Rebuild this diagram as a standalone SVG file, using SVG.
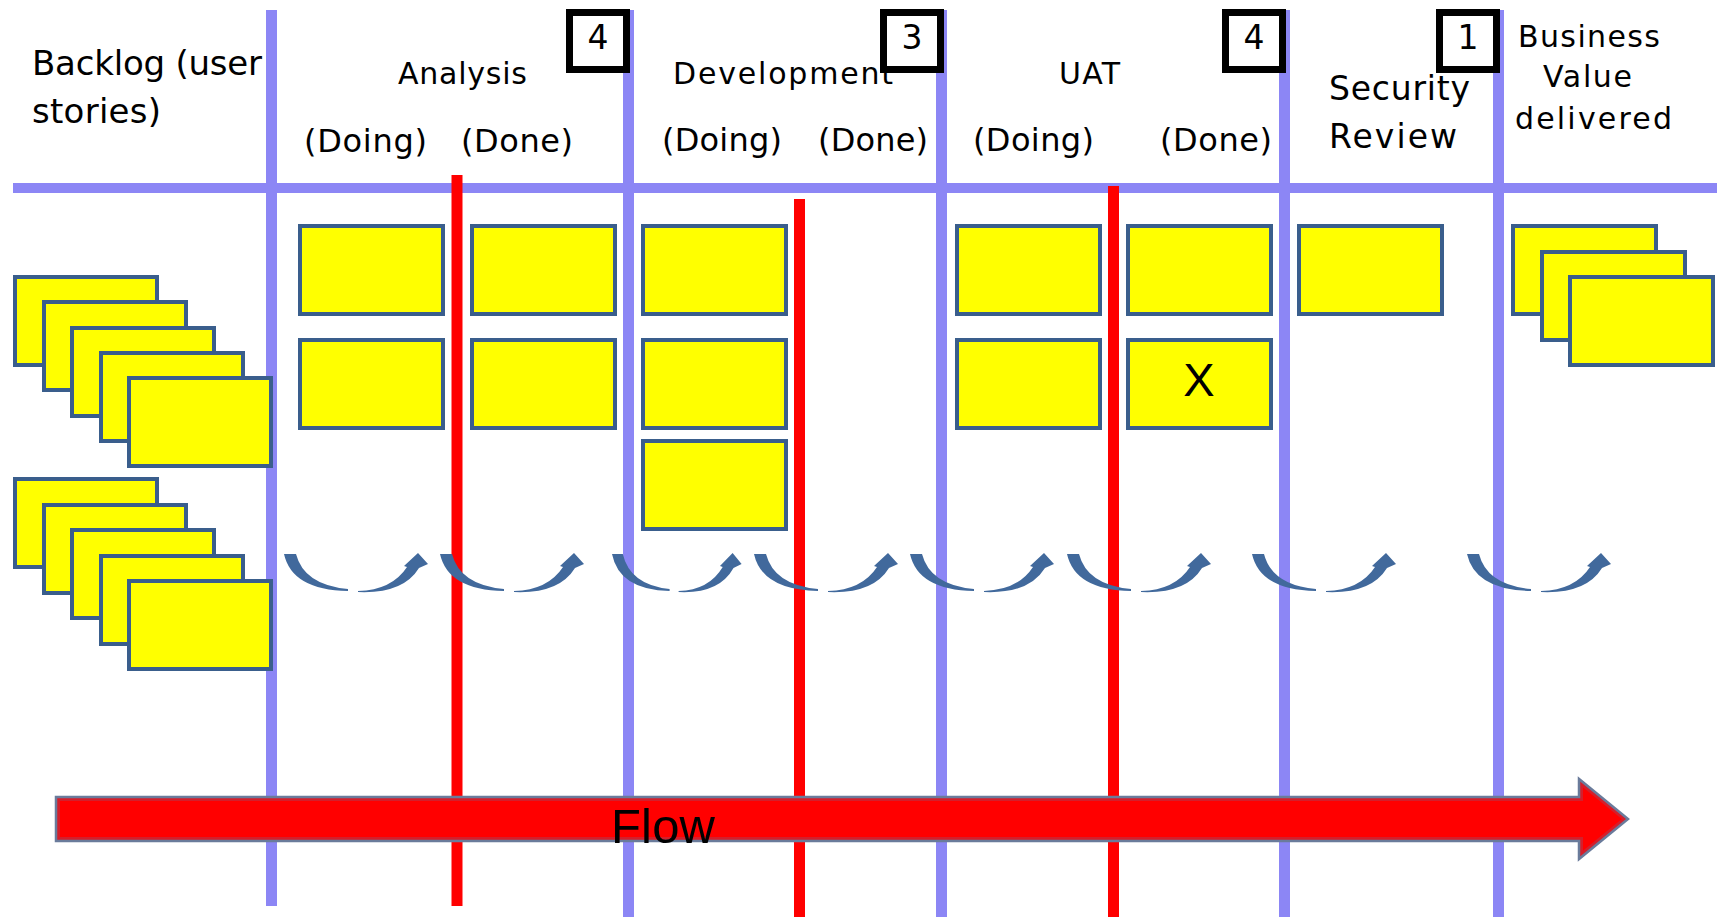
<svg xmlns="http://www.w3.org/2000/svg" xmlns:xlink="http://www.w3.org/1999/xlink" width="1717" height="917" viewBox="0 0 1717 917">
<style>
.lane{stroke:#8C86F5;stroke-width:11;fill:none}
.hline{stroke:#8C86F5;stroke-width:10;fill:none}
.wip{stroke:#FF0000;stroke-width:11;fill:none}
.card{fill:#FFFF00;stroke:#3A5E8C;stroke-width:4}
.lim{fill:#FFFFFF;stroke:#000000;stroke-width:7}
.h{font-family:"DejaVu Sans",Verdana,sans-serif;fill:#000}
.num{font-family:"DejaVu Sans",Verdana,sans-serif;font-size:33px;text-anchor:middle;fill:#000}
.ca{fill:#41699C}
</style>
<defs>
<g id="carrow">
<path class="ca" d="M0,0 L12,0 Q20,31 64,35 L64,37 Q8,36 0,0 Z"/>
<path class="ca" d="M74,37 Q108,36 123,13 L120,12 L134,-1 L144,10 L135,14 Q119,40 74,38 Z"/>
</g>
<clipPath id="fclip"><path d="M56,797 L1579,797 L1579,779 L1628,819 L1579,859 L1579,841 L56,841 Z"/></clipPath>
</defs>
<rect width="1717" height="917" fill="#FFFFFF"/>
<g id="lanes">
<line class="hline" x1="13" y1="188" x2="1717" y2="188"/>
<line class="lane" x1="271.5" y1="10" x2="271.5" y2="906"/>
<line class="lane" x1="628.5" y1="10" x2="628.5" y2="917"/>
<line class="lane" x1="941.5" y1="10" x2="941.5" y2="917"/>
<line class="lane" x1="1284.5" y1="10" x2="1284.5" y2="917"/>
<line class="lane" x1="1498.5" y1="10" x2="1498.5" y2="917"/>
<line class="wip" x1="457" y1="175" x2="457" y2="906"/>
<line class="wip" x1="799.5" y1="199" x2="799.5" y2="917"/>
<line class="wip" x1="1113.5" y1="186" x2="1113.5" y2="917"/>
</g>
<g id="header-backlog">
<text class="h" font-size="34" x="32" y="75" textLength="230">Backlog (user</text>
<text class="h" font-size="34" x="32" y="123" textLength="129">stories)</text>
</g>
<g id="header-analysis">
<text class="h" font-size="30" x="398" y="84" textLength="129">Analysis</text>
<text class="h" font-size="32" x="304" y="152" textLength="123">(Doing)</text>
<text class="h" font-size="32" x="461" y="152" textLength="112">(Done)</text>
<rect class="lim" x="569.5" y="12.5" width="57" height="57"/>
<text class="num" x="598" y="49">4</text>
</g>
<g id="header-development">
<text class="h" font-size="30" x="673" y="84" textLength="220">Development</text>
<text class="h" font-size="32" x="662" y="151" textLength="120">(Doing)</text>
<text class="h" font-size="32" x="818" y="151" textLength="110">(Done)</text>
<rect class="lim" x="883.5" y="12.5" width="57" height="57"/>
<text class="num" x="912" y="49">3</text>
</g>
<g id="header-uat">
<text class="h" font-size="30" x="1059" y="84" textLength="61">UAT</text>
<text class="h" font-size="32" x="973" y="151" textLength="121">(Doing)</text>
<text class="h" font-size="32" x="1160" y="151" textLength="112">(Done)</text>
<rect class="lim" x="1225.5" y="12.5" width="57" height="57"/>
<text class="num" x="1254" y="49">4</text>
</g>
<g id="header-security">
<text class="h" font-size="33" x="1329" y="100" textLength="141">Security</text>
<text class="h" font-size="33" x="1329" y="148" textLength="128">Review</text>
<rect class="lim" x="1439.5" y="12.5" width="57" height="57"/>
<text class="num" x="1468" y="49">1</text>
</g>
<g id="header-business">
<text class="h" font-size="30" x="1518" y="47" textLength="142">Business</text>
<text class="h" font-size="30" x="1543" y="87" textLength="89">Value</text>
<text class="h" font-size="30" x="1515" y="129" textLength="157">delivered</text>
</g>
<g id="backlog-stack-1">
<rect class="card" x="15" y="277" width="142" height="88"/>
<rect class="card" x="44" y="302" width="142" height="88"/>
<rect class="card" x="72" y="328" width="142" height="88"/>
<rect class="card" x="101" y="353" width="142" height="88"/>
<rect class="card" x="129" y="378" width="142" height="88"/>
</g>
<g id="backlog-stack-2">
<rect class="card" x="15" y="479" width="142" height="88"/>
<rect class="card" x="44" y="505" width="142" height="88"/>
<rect class="card" x="72" y="530" width="142" height="88"/>
<rect class="card" x="101" y="556" width="142" height="88"/>
<rect class="card" x="129" y="581" width="142" height="88"/>
</g>
<g id="analysis-doing">
<rect class="card" x="300" y="226" width="143" height="88"/>
<rect class="card" x="300" y="340" width="143" height="88"/>
</g>
<g id="analysis-done">
<rect class="card" x="472" y="226" width="143" height="88"/>
<rect class="card" x="472" y="340" width="143" height="88"/>
</g>
<g id="development-doing">
<rect class="card" x="643" y="226" width="143" height="88"/>
<rect class="card" x="643" y="340" width="143" height="88"/>
<rect class="card" x="643" y="441" width="143" height="88"/>
</g>
<g id="uat-doing">
<rect class="card" x="957" y="226" width="143" height="88"/>
<rect class="card" x="957" y="340" width="143" height="88"/>
</g>
<g id="uat-done">
<rect class="card" x="1128" y="226" width="143" height="88"/>
<rect class="card" x="1128" y="340" width="143" height="88"/>
<text x="1199" y="396" font-family="Liberation Sans, Arial, sans-serif" font-size="47" text-anchor="middle" fill="#000">X</text>
</g>
<g id="security-review">
<rect class="card" x="1299" y="226" width="143" height="88"/>
</g>
<g id="business-value">
<rect class="card" x="1513" y="226" width="143" height="88"/>
<rect class="card" x="1542" y="252" width="143" height="88"/>
<rect class="card" x="1570" y="277" width="143" height="88"/>
</g>
<g id="connectors">
<use xlink:href="#carrow" x="284" y="554"/>
<use xlink:href="#carrow" x="440" y="554"/>
<use xlink:href="#carrow" transform="translate(612,554) scale(0.9,1)"/>
<use xlink:href="#carrow" x="754" y="554"/>
<use xlink:href="#carrow" x="910" y="554"/>
<use xlink:href="#carrow" x="1067" y="554"/>
<use xlink:href="#carrow" x="1252" y="554"/>
<use xlink:href="#carrow" x="1467" y="554"/>
</g>
<g id="flow">
<path d="M56,797 L1579,797 L1579,779 L1628,819 L1579,859 L1579,841 L56,841 Z" fill="#FF0000" stroke="#D41F2B" stroke-width="8" clip-path="url(#fclip)"/>
<path d="M56,797 L1579,797 L1579,779 L1628,819 L1579,859 L1579,841 L56,841 Z" fill="none" stroke="#6A7B9B" stroke-width="2.5"/>
<text x="611" y="843" font-family="Liberation Sans, Arial, sans-serif" font-size="49" textLength="104" fill="#000">Flow</text>
</g>
</svg>
